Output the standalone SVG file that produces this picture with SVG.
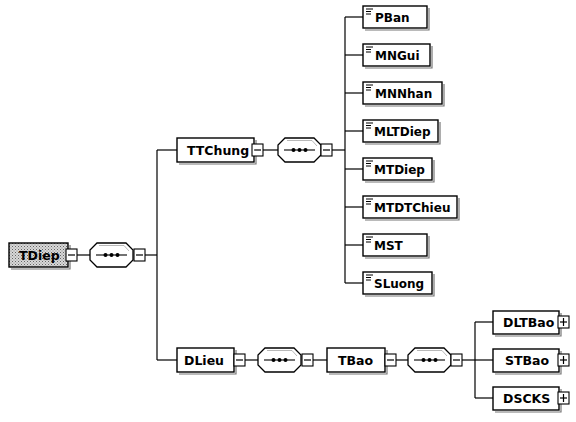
<svg xmlns="http://www.w3.org/2000/svg" width="576" height="422" viewBox="0 0 576 422">
<style>
.bx{fill:#fff;stroke:#000;stroke-width:1.4}
.sh{fill:none;stroke:#777;stroke-width:1.2}
.tx{font-family:"DejaVu Sans",Verdana,sans-serif;font-weight:bold;font-size:12px;fill:#000}
.tl{font-size:12.5px}
.ln{fill:none;stroke:#000;stroke-width:1.2}
.pm{fill:#fff;stroke:#000;stroke-width:1.1}
.ic{stroke:#000;stroke-width:1}
</style>
<defs>
<pattern id="stip" width="3" height="3" patternUnits="userSpaceOnUse">
<rect width="3" height="3" fill="#d8d8d8"/>
<rect width="1" height="1" fill="#666"/>
<rect x="1.5" y="1.5" width="1" height="1" fill="#888"/>
</pattern>
<g id="minus"><rect class="pm" x="0" y="-6" width="11" height="12"/><line class="ln" x1="2" y1="0" x2="9" y2="0"/></g>
<g id="plus"><rect class="pm" x="0" y="-6" width="11" height="12"/><line class="ln" x1="2" y1="0" x2="9" y2="0"/><line class="ln" x1="5.5" y1="-4" x2="5.5" y2="4"/></g>
<g id="seq">
<path d="M1,-12 L42,-12" fill="none"/>
<path d="M7,-12 L36,-12 L43,-5 L43,5 L36,12 L7,12 L0,5 L0,-5 Z" fill="#fff" stroke="#000" stroke-width="1.3"/>
<path d="M9,-9.5 L34,-9.5 L39,-4" fill="none" stroke="#999" stroke-width="0.7"/>
<line x1="6" y1="0" x2="37" y2="0" stroke="#000" stroke-width="1.1"/>
<circle cx="15.5" cy="0" r="2"/><circle cx="21.5" cy="0" r="2"/><circle cx="27.5" cy="0" r="2"/>
</g>
<g id="icon"><line class="ic" x1="3" y1="3" x2="10" y2="3"/><line class="ic" x1="3" y1="5.5" x2="8" y2="5.5"/><line class="ic" x1="3" y1="8" x2="8" y2="8"/></g>
</defs>

<g id="connectors">
<line class="ln" x1="77" y1="255" x2="90" y2="255"/>
<line class="ln" x1="145" y1="255" x2="157" y2="255"/>
<line class="ln" x1="157" y1="150" x2="157" y2="360"/>
<line class="ln" x1="157" y1="150" x2="177" y2="150"/>
<line class="ln" x1="157" y1="360" x2="177" y2="360"/>
<line class="ln" x1="263" y1="150" x2="278" y2="150"/>
<line class="ln" x1="332" y1="150" x2="345" y2="150"/>
<line class="ln" x1="345" y1="17" x2="345" y2="283"/>
<line class="ln" x1="345" y1="17" x2="363" y2="17"/>
<line class="ln" x1="345" y1="55" x2="363" y2="55"/>
<line class="ln" x1="345" y1="93" x2="363" y2="93"/>
<line class="ln" x1="345" y1="131" x2="363" y2="131"/>
<line class="ln" x1="345" y1="169" x2="363" y2="169"/>
<line class="ln" x1="345" y1="207" x2="363" y2="207"/>
<line class="ln" x1="345" y1="245" x2="363" y2="245"/>
<line class="ln" x1="345" y1="283" x2="363" y2="283"/>
<line class="ln" x1="245" y1="360" x2="258" y2="360"/>
<line class="ln" x1="313" y1="360" x2="327" y2="360"/>
<line class="ln" x1="396" y1="360" x2="408" y2="360"/>
<line class="ln" x1="462" y1="360" x2="493" y2="360"/>
<line class="ln" x1="475" y1="322" x2="475" y2="398"/>
<line class="ln" x1="475" y1="322" x2="493" y2="322"/>
<line class="ln" x1="475" y1="398" x2="493" y2="398"/>
</g>

<g id="TDiep">
<polyline class="sh" points="70,245 70,269 11,269"/>
<rect x="9" y="243" width="59" height="24" fill="url(#stip)" stroke="#000" stroke-width="1.4"/>
<text class="tx tl" x="19" y="260">TDiep</text>
<use href="#minus" x="66" y="255"/>
</g>
<g id="seq1"><use href="#seq" x="90" y="255"/><use href="#minus" x="134" y="255"/></g>

<g id="TTChung">
<polyline class="sh" points="256,140 256,164 179,164"/>
<rect class="bx" x="177" y="138" width="77" height="24"/>
<text class="tx tl" x="187" y="155">TTChung</text>
<use href="#minus" x="252" y="150"/>
</g>
<g id="seq2"><use href="#seq" x="278" y="150"/><use href="#minus" x="321" y="150"/></g>

<g id="PBan"><polyline class="sh" points="429,8 429,30 365,30"/><rect class="bx" x="363" y="6" width="64" height="22"/><use href="#icon" x="363" y="6"/><text class="tx" x="375" y="22">PBan</text></g>
<g id="MNGui"><polyline class="sh" points="432,46 432,68 365,68"/><rect class="bx" x="363" y="44" width="67" height="22"/><use href="#icon" x="363" y="44"/><text class="tx" x="375" y="60">MNGui</text></g>
<g id="MNNhan"><polyline class="sh" points="444,84 444,106 365,106"/><rect class="bx" x="363" y="82" width="79" height="22"/><use href="#icon" x="363" y="82"/><text class="tx" x="375" y="98">MNNhan</text></g>
<g id="MLTDiep"><polyline class="sh" points="440,122 440,144 365,144"/><rect class="bx" x="363" y="120" width="75" height="22"/><use href="#icon" x="363" y="120"/><text class="tx" x="374" y="136">MLTDiep</text></g>
<g id="MTDiep"><polyline class="sh" points="434,160 434,182 365,182"/><rect class="bx" x="363" y="158" width="69" height="22"/><use href="#icon" x="363" y="158"/><text class="tx" x="374" y="174">MTDiep</text></g>
<g id="MTDTChieu"><polyline class="sh" points="459,198 459,220 365,220"/><rect class="bx" x="363" y="196" width="94" height="22"/><use href="#icon" x="363" y="196"/><text class="tx" x="374" y="212">MTDTChieu</text></g>
<g id="MST"><polyline class="sh" points="429,236 429,258 365,258"/><rect class="bx" x="363" y="234" width="64" height="22"/><use href="#icon" x="363" y="234"/><text class="tx" x="374" y="250">MST</text></g>
<g id="SLuong"><polyline class="sh" points="434,274 434,296 365,296"/><rect class="bx" x="363" y="272" width="69" height="22"/><use href="#icon" x="363" y="272"/><text class="tx" x="374" y="288">SLuong</text></g>

<g id="DLieu">
<polyline class="sh" points="236,350 236,374 179,374"/>
<rect class="bx" x="177" y="348" width="57" height="24"/>
<text class="tx tl" x="184" y="365">DLieu</text>
<use href="#minus" x="234" y="360"/>
</g>
<g id="seq3"><use href="#seq" x="258" y="360"/><use href="#minus" x="302" y="360"/></g>

<g id="TBao">
<polyline class="sh" points="387,350 387,374 329,374"/>
<rect class="bx" x="327" y="348" width="58" height="24"/>
<text class="tx tl" x="338" y="365">TBao</text>
<use href="#minus" x="385" y="360"/>
</g>
<g id="seq4"><use href="#seq" x="408" y="360"/><use href="#minus" x="451" y="360"/></g>

<g id="DLTBao"><polyline class="sh" points="561,313 561,336 495,336"/><rect class="bx" x="493" y="311" width="66" height="23"/><text class="tx tl" x="503" y="327">DLTBao</text><use href="#plus" x="558" y="322"/></g>
<g id="STBao"><polyline class="sh" points="561,351 561,374 495,374"/><rect class="bx" x="493" y="349" width="66" height="23"/><text class="tx tl" x="505" y="365">STBao</text><use href="#plus" x="558" y="360"/></g>
<g id="DSCKS"><polyline class="sh" points="561,389 561,412 495,412"/><rect class="bx" x="493" y="387" width="66" height="23"/><text class="tx tl" x="503" y="403">DSCKS</text><use href="#plus" x="558" y="398"/></g>
</svg>
